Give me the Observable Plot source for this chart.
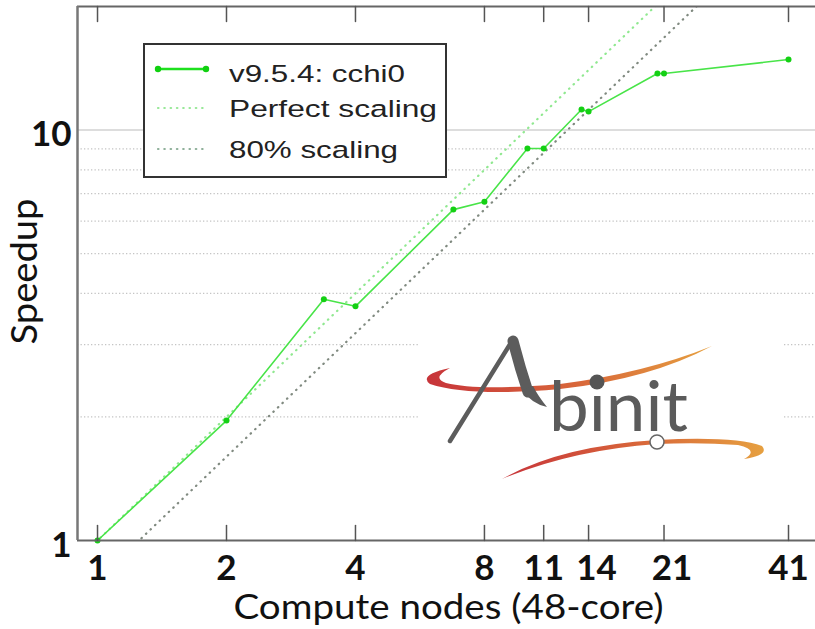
<!DOCTYPE html>
<html><head><meta charset="utf-8">
<script src="https://cdn.jsdelivr.net/npm/d3@7"></script>
<script src="https://cdn.jsdelivr.net/npm/@observablehq/plot@0.6"></script>
<style>
body{margin:0;background:#fff;}
#wrap{position:relative;width:815px;height:629px;overflow:hidden;}
#wrap svg.overlay{position:absolute;left:0;top:0;pointer-events:none;}
</style></head><body><div id="wrap"></div>
<script>
// ---- data ----
const seriesName = "v9.5.4: cchi0";
const nodes   = [1, 2, 3.375, 4, 6.77, 8, 10.08, 11, 13.48, 14, 20.27, 21, 41];
const speedup = [1, 1.96, 3.87, 3.72, 6.40, 6.69, 9.02, 9.02, 11.22, 11.09, 13.73, 13.73, 14.85];
const refNodes       = [0.5, 60];
const perfectSpeedup = [0.5, 60];
const eightySpeedup  = [0.4, 48];
const xTicks = [1, 2, 4, 8, 11, 14, 21, 41];
const xTicksCentered = [1, 2, 4, 8, 11, 41];
const xTicksShifted = [14, 21];
const yTicks = [1, 10];
const yMinorGrid = [2, 3, 4, 5, 6, 7, 8, 9];
const yMajorGrid = [10];
const xDomain = [0.898, 47.4];
const yDomain = [1, 20];
const xLabel = "Compute nodes (48-core)";
const yLabel = "Speedup";
const legendLabels = [seriesName, "Perfect scaling", "80% scaling"];
const logoText = "binit";

// ---- build tables ----
const data = nodes.map((n, i) => ({n, s: speedup[i]}));
const perfect = refNodes.map((n, i) => ({n, s: perfectSpeedup[i]}));
const eighty = refNodes.map((n, i) => ({n, s: eightySpeedup[i]}));
const tickShape = {draw(ctx, l) { ctx.moveTo(0, 0); ctx.lineTo(0, -l); }};
const tickLabelStyle = {y: yDomain[0], text: d => String(d), lineAnchor: "top", dy: 15, fontSize: 35, fontWeight: "bold", fill: "#111"};

const chart = Plot.plot({
  width: 815, height: 629,
  marginLeft: 77, marginRight: 0, marginTop: 6, marginBottom: 89,
  style: {fontFamily: "Lato, sans-serif", background: "white", color: "#111"},
  x: {type: "log", domain: xDomain, axis: null},
  y: {type: "log", domain: yDomain},
  marks: [
    Plot.ruleY(yMinorGrid, {stroke: "#c4c4c4", strokeWidth: 1.3, strokeDasharray: "1.3,2.2"}),
    Plot.ruleY(yMajorGrid, {stroke: "#d2d2d2", strokeWidth: 1.5}),
    Plot.line(perfect, {x: "n", y: "s", stroke: "#90e890", strokeWidth: 2.2, strokeDasharray: "0.5,5.8", strokeLinecap: "round", clip: true}),
    Plot.line(eighty, {x: "n", y: "s", stroke: "#808a80", strokeWidth: 2.2, strokeDasharray: "0.5,5.8", strokeLinecap: "round", clip: true}),
    Plot.line(data, {x: "n", y: "s", stroke: "#48e448", strokeWidth: 1.6}),
    Plot.dot(data, {x: "n", y: "s", r: 3, fill: "#14d014"}),
    Plot.ruleY([yDomain[0]], {stroke: "#666", strokeWidth: 2}),
    Plot.ruleY([yDomain[1]], {stroke: "#666", strokeWidth: 2}),
    Plot.ruleX([xDomain[0]], {stroke: "#777", strokeWidth: 2.5}),
    Plot.vector(xTicks, {x: d => d, y: yDomain[0], length: 15, rotate: 0, anchor: "start", shape: tickShape, stroke: "#555", strokeWidth: 1.5}),
    Plot.vector(xTicks, {x: d => d, y: yDomain[1], length: 15, rotate: 180, anchor: "start", shape: tickShape, stroke: "#555", strokeWidth: 1.5}),
    Plot.text(xTicksCentered, {x: d => d, ...tickLabelStyle}),
    Plot.text(xTicksShifted, {x: d => d, ...tickLabelStyle, dx: 8}),
    Plot.axisY(yTicks, {tickSize: 0, tickPadding: 6, tickFormat: d => String(d), fontSize: 35, fontWeight: "bold", label: null, dy: 5}),
    Plot.text([xLabel], {text: d => d, frameAnchor: "bottom", textAnchor: "middle", lineAnchor: "middle", dy: 68, dx: 2, fontSize: 34, fill: "#111"}),
    Plot.text([yLabel], {text: d => d, frameAnchor: "left", textAnchor: "middle", lineAnchor: "middle", rotate: -90, dx: -52, dy: -2, fontSize: 36, fill: "#111"})
  ]
});
const wrap = document.getElementById("wrap");
wrap.appendChild(chart);
// stretch the axis titles to the reference's wider lettering
d3.select(chart).selectAll("text").each(function () {
  if (this.textContent === xLabel) d3.select(this).attr("textLength", 430).attr("lengthAdjust", "spacingAndGlyphs");
  if (this.textContent === yLabel) d3.select(this).attr("textLength", 146).attr("lengthAdjust", "spacingAndGlyphs");
});

// ---- overlay: legend box and Abinit logo ----
const ov = d3.select(wrap).append("svg").attr("class", "overlay")
  .attr("width", 815).attr("height", 629);

const defs = ov.append("defs");
const g1 = defs.append("linearGradient").attr("id", "sw").attr("x1", "0").attr("x2", "1").attr("y1", "0").attr("y2", "0");
g1.append("stop").attr("offset", "0").attr("stop-color", "#c7343a");
g1.append("stop").attr("offset", "0.55").attr("stop-color", "#d9693a");
g1.append("stop").attr("offset", "1").attr("stop-color", "#e6a040");

// legend
const lg = ov.append("g");
lg.append("rect").attr("x", 144).attr("y", 44).attr("width", 302).attr("height", 133)
  .attr("fill", "white").attr("stroke", "#333").attr("stroke-width", 2);
const rowsY = [69, 108, 149];
const textY = [82, 117, 158];
const textW = [176, 208, 169];
lg.append("line").attr("x1", 158).attr("x2", 206).attr("y1", rowsY[0]).attr("y2", rowsY[0])
  .attr("stroke", "#1ee01e").attr("stroke-width", 2.5);
[158, 206].forEach(x => lg.append("circle").attr("cx", x).attr("cy", rowsY[0]).attr("r", 3.2).attr("fill", "#10d010"));
lg.append("line").attr("x1", 158).attr("x2", 206).attr("y1", rowsY[1]).attr("y2", rowsY[1])
  .attr("stroke", "#98e898").attr("stroke-width", 2.2).attr("stroke-dasharray", "0.5,5.8").attr("stroke-linecap", "round");
lg.append("line").attr("x1", 158).attr("x2", 206).attr("y1", rowsY[2]).attr("y2", rowsY[2])
  .attr("stroke", "#8fb09a").attr("stroke-width", 2.2).attr("stroke-dasharray", "0.5,5.8").attr("stroke-linecap", "round");
legendLabels.forEach((t, i) => {
  lg.append("text").attr("x", 229).attr("y", textY[i]).attr("font-family", "Liberation Sans, Arial, sans-serif")
    .attr("font-size", 24.5).attr("fill", "#222").attr("textLength", textW[i]).attr("lengthAdjust", "spacingAndGlyphs").text(t);
});

// logo
const lo = ov.append("g");
lo.append("rect").attr("x", 420).attr("y", 312).attr("width", 362).attr("height", 190).attr("fill", "white");
lo.append("path").attr("fill", "url(#sw)").attr("d",
  "M450 368 Q418 375 430 384 Q470 397 560 389 Q650 379 712 346 Q645 373 560 384 Q478 391 446 383 Q431 378 450 368 Z");
lo.append("path").attr("fill", "url(#sw)").attr("d",
  "M502 479 Q560 446 657 440 Q735 436 762 446 Q770 455 744 459 Q760 450 738 445 Q700 442 657 444 Q572 450 502 479 Z");
lo.append("line").attr("x1", 512).attr("y1", 341).attr("x2", 450).attr("y2", 441)
  .attr("stroke", "#5c5c5c").attr("stroke-width", 4.5).attr("stroke-linecap", "round");
lo.append("path").attr("d", "M513 341 Q520 368 528 392").attr("fill", "none")
  .attr("stroke", "#5c5c5c").attr("stroke-width", 11).attr("stroke-linecap", "round");
lo.append("path").attr("d", "M522 390 Q532 404 547 407 Q538 396 533 386 Z").attr("fill", "#5c5c5c");
lo.append("text").attr("x", 549).attr("y", 431).attr("font-family", "Lato, sans-serif")
  .attr("font-size", 69).attr("fill", "#5b5b5b").attr("textLength", 139).attr("lengthAdjust", "spacingAndGlyphs").text(logoText);
lo.append("circle").attr("cx", 597).attr("cy", 382).attr("r", 7.5).attr("fill", "#555");
lo.append("circle").attr("cx", 657).attr("cy", 442).attr("r", 7).attr("fill", "white").attr("stroke", "#666").attr("stroke-width", 1.5);
</script>
</body></html>
